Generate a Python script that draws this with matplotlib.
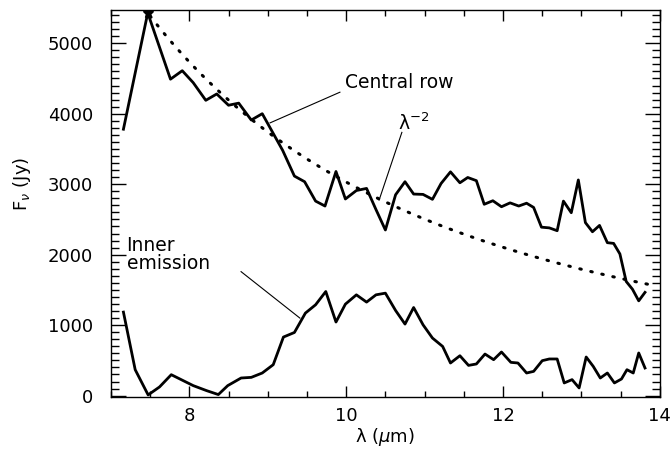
import numpy as np
import matplotlib
matplotlib.use("Agg")
import matplotlib.pyplot as plt
from matplotlib.ticker import MultipleLocator

# values (wavelength in micron, flux in Jy)
central_x = [7.16, 7.47, 7.76, 7.91, 8.05, 8.21, 8.35, 8.50, 8.63, 8.79,
             8.93, 9.19, 9.34, 9.47, 9.61, 9.73, 9.87, 9.99, 10.13, 10.26,
             10.38, 10.50, 10.63, 10.75, 10.86, 10.98, 11.10, 11.21, 11.33, 11.45,
             11.55, 11.66, 11.76, 11.87, 11.98, 12.09, 12.20, 12.30, 12.39, 12.49,
             12.59, 12.69, 12.77, 12.87, 12.96, 13.05, 13.14, 13.23, 13.33, 13.41,
             13.49, 13.57, 13.65, 13.73, 13.81]
central_y = [3780, 5430, 4490, 4610, 4440, 4190, 4280, 4120, 4150, 3910,
             4000, 3480, 3115, 3035, 2760, 2690, 3180, 2790, 2910, 2940,
             2640, 2350, 2850, 3035, 2860, 2855, 2785, 3010, 3175, 3020,
             3095, 3050, 2715, 2765, 2680, 2735, 2690, 2730, 2670, 2390,
             2380, 2340, 2760, 2595, 3060, 2455, 2325, 2415, 2170, 2160,
             2010, 1620, 1510, 1345, 1465]

inner_x = [7.16, 7.31, 7.475, 7.62, 7.77, 8.05, 8.22, 8.37, 8.49, 8.66,
           8.79, 8.93, 9.07, 9.20, 9.34, 9.48, 9.61, 9.74, 9.87, 9.99,
           10.13, 10.26, 10.38, 10.50, 10.63, 10.75, 10.86, 10.98, 11.10, 11.23,
           11.33, 11.45, 11.56, 11.66, 11.77, 11.88, 11.98, 12.10, 12.19, 12.30,
           12.39, 12.50, 12.59, 12.69, 12.78, 12.88, 12.97, 13.06, 13.15, 13.24,
           13.33, 13.42, 13.51, 13.58, 13.66, 13.73, 13.81]
inner_y = [1185, 368, 10, 123, 297, 142, 71, 15, 142, 250,
           259, 321, 439, 831, 896, 1171, 1289, 1477, 1044, 1298,
           1430, 1327, 1430, 1454, 1208, 1015, 1250, 1005, 817, 698,
           463, 566, 429, 449, 590, 510, 619, 472, 463, 321,
           344, 496, 520, 520, 180, 227, 109, 548, 415, 250,
           321, 180, 236, 368, 321, 605, 392]

# lambda^-2 model, normalised at the peak
peak_x = 7.47
peak_y = 5430
model_x = np.linspace(7.5, 13.85, 200)
model_y = peak_y * (peak_x / model_x) ** 2

fig = plt.figure(figsize=(6.72, 4.59), dpi=100)
ax = fig.add_axes([0.165, 0.135, 0.817, 0.843])

ax.plot(central_x, central_y, color='black', lw=2.0)
ax.plot(inner_x, inner_y, color='black', lw=2.0)
ax.plot(model_x, model_y, color='black', lw=2.2, linestyle=(0, (0.5, 3.2)),
        dash_capstyle='round')
ax.plot([peak_x], [peak_y], marker='*', color='black', ms=8)

ax.set_xlim(7, 14)
ax.set_ylim(-20, 5470)

ax.xaxis.set_major_locator(MultipleLocator(2))
ax.xaxis.set_minor_locator(MultipleLocator(0.5))
ax.yaxis.set_major_locator(MultipleLocator(1000))
ax.yaxis.set_minor_locator(MultipleLocator(100))
ax.tick_params(which='both', direction='in', top=True, right=True,
               labelsize=13, width=1.0)
ax.tick_params(axis='x', which='major', length=8, pad=7)
ax.tick_params(axis='x', which='minor', length=4)
ax.tick_params(axis='y', which='major', length=11, pad=13)
ax.tick_params(axis='y', which='minor', length=6)
for s in ax.spines.values():
    s.set_linewidth(1.0)

ax.set_xlabel('λ ($\\mu$m)', fontsize=13, labelpad=1)
ax.set_ylabel('F$_\\nu$ (Jy)', fontsize=13)
ax.yaxis.set_label_coords(-0.142, 0.55)

# labels with pointer lines
ax.text(9.98, 4361, 'Central row', fontsize=13.5, ha='left', va='baseline')
ax.plot([9.92, 9.03], [4305, 3870], color='black', lw=0.8)

ax.text(10.66, 3766, 'λ$^{-2}$', fontsize=13.5, ha='left', va='baseline')
ax.plot([10.71, 10.42], [3735, 2775], color='black', lw=0.8)

ax.text(7.20, 2000, 'Inner\nemission', fontsize=13.5, ha='left', va='center',
        linespacing=0.9)
ax.plot([8.66, 9.41], [1759, 1100], color='black', lw=0.8)

fig.savefig('out.png', dpi=100)
